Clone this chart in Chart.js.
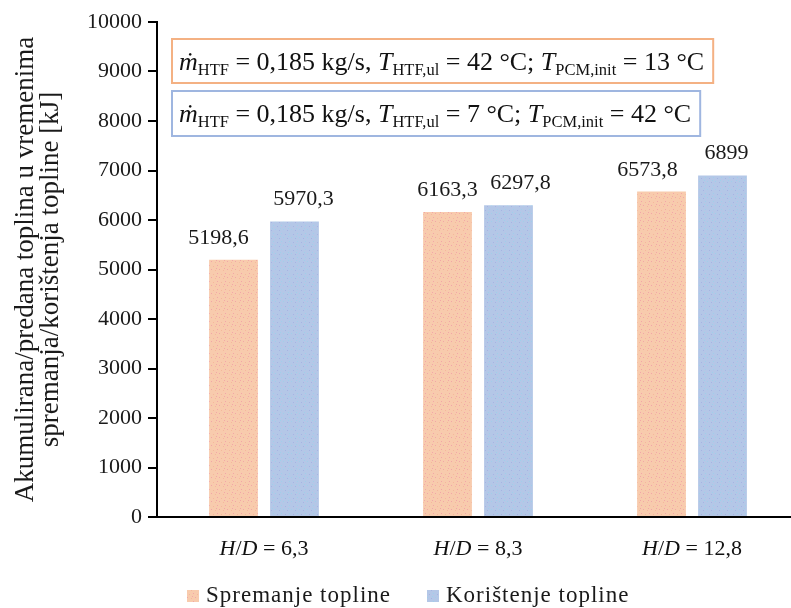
<!DOCTYPE html>
<html>
<head>
<meta charset="utf-8">
<script src="https://cdn.jsdelivr.net/npm/chart.js@4.4.1/dist/chart.umd.min.js"></script>
<style>
  html, body { margin: 0; padding: 0; background: #fff; overflow: hidden; }
  #wrap { width: 800px; height: 608px; position: relative; }
</style>
</head>
<body>
<div id="wrap"><canvas id="chart"></canvas></div>
<script>
// Data
const categories = ['6,3', '8,3', '12,8'];
const storedHeat = [5198.6, 6163.3, 6573.8];   // Spremanje topline
const usedHeat = [5970.3, 6297.8, 6899];       // Korištenje topline
const seriesNames = ['Spremanje topline', 'Korištenje topline'];
const yTicks = { min: 0, max: 10000, step: 1000 };
const yTitle = ['Akumulirana/predana toplina u vremenima', 'spremanja/korištenja topline [kJ]'];

const SERIF = '"Liberation Serif", "Times New Roman", serif';

// dotted fill like the original bars
function makePattern(base, dotColors) {
  const c = document.createElement('canvas');
  c.width = 8; c.height = 8;
  const g = c.getContext('2d');
  g.fillStyle = base;
  g.fillRect(0, 0, 8, 8);
  const dots = [[1, 1], [5, 2], [3, 5], [7, 6], [0, 4]];
  dots.forEach((d, i) => {
    g.fillStyle = dotColors[i % dotColors.length];
    g.fillRect(d[0], d[1], 1, 1);
  });
  return g.createPattern(c, 'repeat');
}

const orangeFill = makePattern('#f8cbad', ['#f2a6a8', '#f5b79c']);
const blueFill = makePattern('#b4c7e7', ['#9fd0ea', '#a6b3e3']);
const fills = [orangeFill, blueFill];

function fmt(v) {
  return String(v).replace('.', ',');
}

// labels were hand-placed in the original, sideways nudge in px
const labelNudge = [[-15, 0, -14], [9, 12, 4]];

const valueLabels = {
  id: 'valueLabels',
  afterDatasetsDraw(chart) {
    const ctx = chart.ctx;
    ctx.save();
    ctx.font = '22px ' + SERIF;
    ctx.fillStyle = '#1a1a1a';
    ctx.textAlign = 'center';
    ctx.textBaseline = 'alphabetic';
    chart.data.datasets.forEach((ds, di) => {
      chart.getDatasetMeta(di).data.forEach((bar, i) => {
        ctx.fillText(fmt(ds.data[i]), bar.x + labelNudge[di][i], bar.y - 16);
      });
    });
    ctx.restore();
  }
};

// draw a run of pieces with their own fonts
function drawRich(ctx, parts, x, y) {
  parts.forEach(p => {
    ctx.font = p.font;
    ctx.fillText(p.t, x, y + (p.dy || 0));
    x += ctx.measureText(p.t).width;
  });
  return x;
}

function richWidth(ctx, parts) {
  let w = 0;
  parts.forEach(p => { ctx.font = p.font; w += ctx.measureText(p.t).width; });
  return w;
}

const F_MAIN = '26px ' + SERIF;
const F_IT = 'italic 26px ' + SERIF;
const F_SUB = '16.5px ' + SERIF;

function condLine(tIn, tInit) {
  return [
    { t: 'ṁ', font: F_IT },
    { t: 'HTF', font: F_SUB, dy: 5 },
    { t: ' = 0,185 kg/s, ', font: F_MAIN },
    { t: 'T', font: F_IT },
    { t: 'HTF,ul', font: F_SUB, dy: 5 },
    { t: ' = ' + tIn + ' °C; ', font: F_MAIN },
    { t: 'T', font: F_IT },
    { t: 'PCM,init', font: F_SUB, dy: 5 },
    { t: ' = ' + tInit + ' °C', font: F_MAIN }
  ];
}

const annotations = {
  id: 'annotations',
  afterDraw(chart) {
    const ctx = chart.ctx;
    const area = chart.chartArea;
    const boxes = [
      { parts: condLine(42, 13), border: '#f4b183', top: area.top + 17, h: 44 },
      { parts: condLine(7, 42), border: '#9fb6e0', top: area.top + 69, h: 45 }
    ];
    ctx.save();
    ctx.textBaseline = 'alphabetic';
    boxes.forEach(b => {
      const w = richWidth(ctx, b.parts) + 16;
      const x = area.left + 15;
      ctx.fillStyle = '#fff';
      ctx.fillRect(x, b.top, w, b.h);
      ctx.strokeStyle = b.border;
      ctx.lineWidth = 2;
      ctx.strokeRect(x, b.top, w, b.h);
      ctx.fillStyle = '#111';
      drawRich(ctx, b.parts, x + 7, b.top + 31);
    });

    // x category labels: H/D = value with italic H and D
    const xs = chart.scales.x;
    ctx.textBaseline = 'middle';
    categories.forEach((c, i) => {
      const parts = [
        { t: 'H', font: 'italic 22px ' + SERIF },
        { t: '/', font: '22px ' + SERIF },
        { t: 'D', font: 'italic 22px ' + SERIF },
        { t: ' = ' + c, font: '22px ' + SERIF }
      ];
      const w = richWidth(ctx, parts);
      drawRich(ctx, parts, xs.getPixelForValue(i) - w / 2, area.bottom + 32);
    });

    // legend
    ctx.font = '23px ' + SERIF;
    ctx.letterSpacing = '1px';
    ctx.textBaseline = 'middle';
    const legendX = [187, 427];
    seriesNames.forEach((name, i) => {
      const x = legendX[i];
      const y = 596;
      ctx.fillStyle = fills[i];
      ctx.fillRect(x, y - 6, 12, 12);
      ctx.fillStyle = '#1a1a1a';
      ctx.fillText(name, x + 19, y);
    });
    ctx.restore();
  }
};

new Chart(document.getElementById('chart'), {
  type: 'bar',
  data: {
    labels: categories.map(c => 'H/D = ' + c),
    datasets: [{
      label: seriesNames[0],
      data: storedHeat,
      backgroundColor: orangeFill,
      borderWidth: 0
    }, {
      label: seriesNames[1],
      data: usedHeat,
      backgroundColor: blueFill,
      borderWidth: 0
    }]
  },
  options: {
    responsive: true,
    maintainAspectRatio: false,
    animation: false,
    devicePixelRatio: 1,
    datasets: {
      bar: { categoryPercentage: 0.57, barPercentage: 0.8 }
    },
    layout: { padding: { top: 22, right: 1, bottom: 91, left: 0 } },
    plugins: {
      legend: { display: false },
      tooltip: { enabled: false }
    },
    scales: {
      x: {
        grid: { display: true, drawOnChartArea: false, drawTicks: false },
        border: { display: true, color: '#000', width: 2 },
        ticks: { display: false }
      },
      y: {
        min: yTicks.min,
        max: yTicks.max,
        afterFit(scale) { scale.width = 157; },
        ticks: {
          stepSize: yTicks.step,
          color: '#1a1a1a',
          font: { family: SERIF, size: 22 },
          padding: 6,
          callback: v => String(v)
        },
        grid: { drawOnChartArea: false, drawTicks: true, tickLength: 9, color: '#000', lineWidth: 2 },
        border: { display: true, color: '#000', width: 2 },
        title: {
          display: true,
          text: yTitle,
          color: '#1a1a1a',
          font: { family: SERIF, size: 27, lineHeight: 0.94 },
          padding: { top: 13, bottom: 0 }
        }
      }
    }
  },
  plugins: [valueLabels, annotations]
});
</script>
</body>
</html>
